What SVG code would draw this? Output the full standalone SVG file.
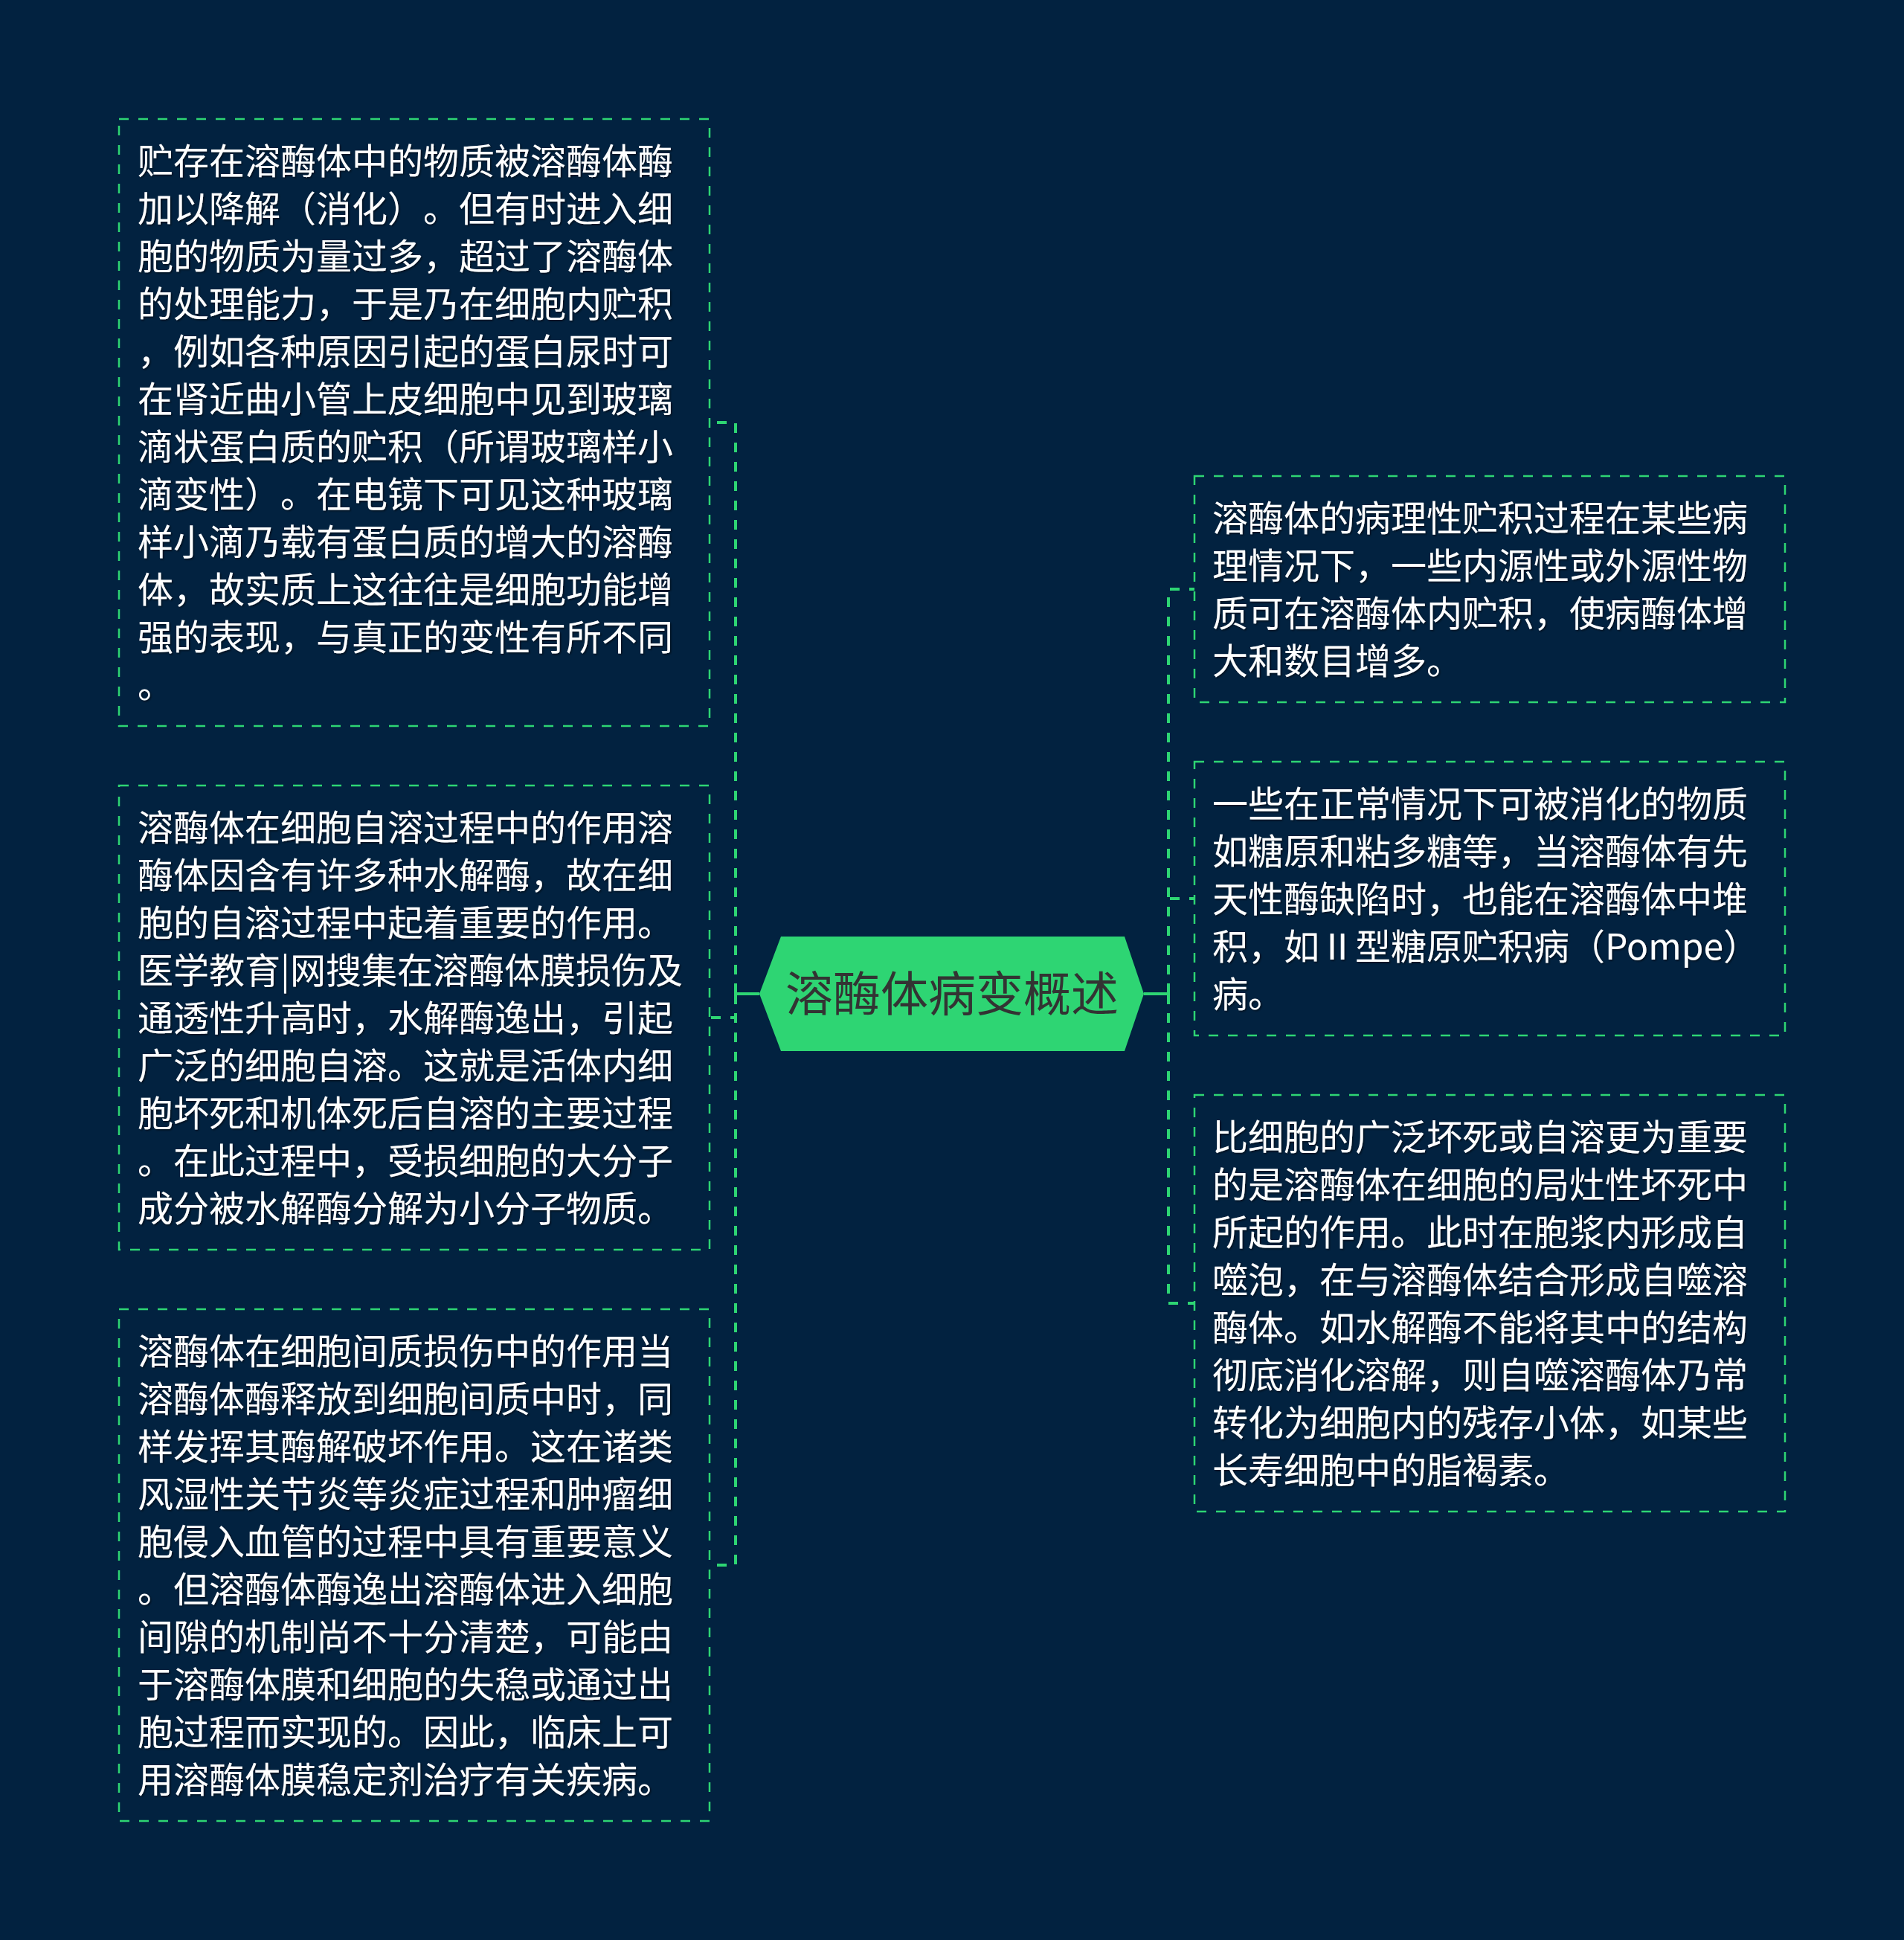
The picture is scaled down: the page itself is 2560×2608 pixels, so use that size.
<svg xmlns="http://www.w3.org/2000/svg" width="2560" height="2608" viewBox="0 0 2560 2608">
<defs>
<filter id="sh" x="-5%" y="-5%" width="110%" height="110%">
<feDropShadow dx="1.5" dy="1.5" stdDeviation="0.8" flood-color="#000000" flood-opacity="0.55"/>
</filter>
<style>
.box{fill:none;stroke:#2ed573;stroke-width:2.5;stroke-dasharray:13 13;}
.txt{font-family:"Noto Sans CJK SC","Noto Sans",sans-serif;font-size:48px;fill:#ffffff;filter:url(#sh);text-spacing-trim:space-all;font-feature-settings:"halt" 0,"chws" 0;}
.root{font-family:"Noto Sans CJK SC","Noto Sans",sans-serif;font-size:64px;fill:#333333;}
.con{fill:none;stroke:#2ed573;stroke-width:4;stroke-dasharray:13 13;}
.conS{fill:none;stroke:#2ed573;stroke-width:4;}
</style>
</defs>
<rect x="0" y="0" width="2560" height="2608" fill="#022240"/>

<g id="connectors">
<path class="con" d="M989 1336 V568 H954"/>
<path class="con" d="M989 1336 V1368 H954"/>
<path class="con" d="M989 1336 V2104 H954"/>
<path class="con" d="M1571 1336 V792 H1606"/>
<path class="con" d="M1571 1336 V1208 H1606"/>
<path class="con" d="M1571 1336 V1752 H1606"/>
<path class="conS" d="M1021 1336 H989 M989 1322 V1350"/>
<path class="conS" d="M1538 1336 H1571 M1571 1322 V1350"/>
</g>

<g id="root">
<polygon points="1021,1336 1050,1259 1512,1259 1538,1336 1512,1413 1050,1413" fill="#2ed573"/>
<text class="root" x="1280" y="1359" text-anchor="middle">溶酶体病变概述</text>
</g>

<g id="left1">
<rect class="box" x="160" y="160" width="794" height="816"/>
<text class="txt" x="185" y="234">
<tspan x="185">贮存在溶酶体中的物质被溶酶体酶</tspan>
<tspan x="185" dy="64">加以降解（消化）。但有时进入细</tspan>
<tspan x="185" dy="64">胞的物质为量过多，超过了溶酶体</tspan>
<tspan x="185" dy="64">的处理能力，于是乃在细胞内贮积</tspan>
<tspan x="185" dy="64">，例如各种原因引起的蛋白尿时可</tspan>
<tspan x="185" dy="64">在肾近曲小管上皮细胞中见到玻璃</tspan>
<tspan x="185" dy="64">滴状蛋白质的贮积（所谓玻璃样小</tspan>
<tspan x="185" dy="64">滴变性）。在电镜下可见这种玻璃</tspan>
<tspan x="185" dy="64">样小滴乃载有蛋白质的增大的溶酶</tspan>
<tspan x="185" dy="64">体，故实质上这往往是细胞功能增</tspan>
<tspan x="185" dy="64">强的表现，与真正的变性有所不同</tspan>
<tspan x="185" dy="64">。</tspan>
</text>
</g>

<g id="left2">
<rect class="box" x="160" y="1056" width="794" height="624"/>
<text class="txt" x="185" y="1130">
<tspan x="185">溶酶体在细胞自溶过程中的作用溶</tspan>
<tspan x="185" dy="64">酶体因含有许多种水解酶，故在细</tspan>
<tspan x="185" dy="64">胞的自溶过程中起着重要的作用。</tspan>
<tspan x="185" dy="64">医学教育|网搜集在溶酶体膜损伤及</tspan>
<tspan x="185" dy="64">通透性升高时，水解酶逸出，引起</tspan>
<tspan x="185" dy="64">广泛的细胞自溶。这就是活体内细</tspan>
<tspan x="185" dy="64">胞坏死和机体死后自溶的主要过程</tspan>
<tspan x="185" dy="64">。在此过程中，受损细胞的大分子</tspan>
<tspan x="185" dy="64">成分被水解酶分解为小分子物质。</tspan>
</text>
</g>

<g id="left3">
<rect class="box" x="160" y="1760" width="794" height="688"/>
<text class="txt" x="185" y="1834">
<tspan x="185">溶酶体在细胞间质损伤中的作用当</tspan>
<tspan x="185" dy="64">溶酶体酶释放到细胞间质中时，同</tspan>
<tspan x="185" dy="64">样发挥其酶解破坏作用。这在诸类</tspan>
<tspan x="185" dy="64">风湿性关节炎等炎症过程和肿瘤细</tspan>
<tspan x="185" dy="64">胞侵入血管的过程中具有重要意义</tspan>
<tspan x="185" dy="64">。但溶酶体酶逸出溶酶体进入细胞</tspan>
<tspan x="185" dy="64">间隙的机制尚不十分清楚，可能由</tspan>
<tspan x="185" dy="64">于溶酶体膜和细胞的失稳或通过出</tspan>
<tspan x="185" dy="64">胞过程而实现的。因此，临床上可</tspan>
<tspan x="185" dy="64">用溶酶体膜稳定剂治疗有关疾病。</tspan>
</text>
</g>

<g id="right1">
<rect class="box" x="1606" y="640" width="794" height="304"/>
<text class="txt" x="1630" y="714">
<tspan x="1630">溶酶体的病理性贮积过程在某些病</tspan>
<tspan x="1630" dy="64">理情况下，一些内源性或外源性物</tspan>
<tspan x="1630" dy="64">质可在溶酶体内贮积，使病酶体增</tspan>
<tspan x="1630" dy="64">大和数目增多。</tspan>
</text>
</g>

<g id="right2">
<rect class="box" x="1606" y="1024" width="794" height="368"/>
<text class="txt" x="1630" y="1098">
<tspan x="1630">一些在正常情况下可被消化的物质</tspan>
<tspan x="1630" dy="64">如糖原和粘多糖等，当溶酶体有先</tspan>
<tspan x="1630" dy="64">天性酶缺陷时，也能在溶酶体中堆</tspan>
<tspan x="1630" dy="64">积，如Ⅱ型糖原贮积病（Pompe）</tspan>
<tspan x="1630" dy="64">病。</tspan>
</text>
</g>

<g id="right3">
<rect class="box" x="1606" y="1472" width="794" height="560"/>
<text class="txt" x="1630" y="1546">
<tspan x="1630">比细胞的广泛坏死或自溶更为重要</tspan>
<tspan x="1630" dy="64">的是溶酶体在细胞的局灶性坏死中</tspan>
<tspan x="1630" dy="64">所起的作用。此时在胞浆内形成自</tspan>
<tspan x="1630" dy="64">噬泡，在与溶酶体结合形成自噬溶</tspan>
<tspan x="1630" dy="64">酶体。如水解酶不能将其中的结构</tspan>
<tspan x="1630" dy="64">彻底消化溶解，则自噬溶酶体乃常</tspan>
<tspan x="1630" dy="64">转化为细胞内的残存小体，如某些</tspan>
<tspan x="1630" dy="64">长寿细胞中的脂褐素。</tspan>
</text>
</g>
</svg>
